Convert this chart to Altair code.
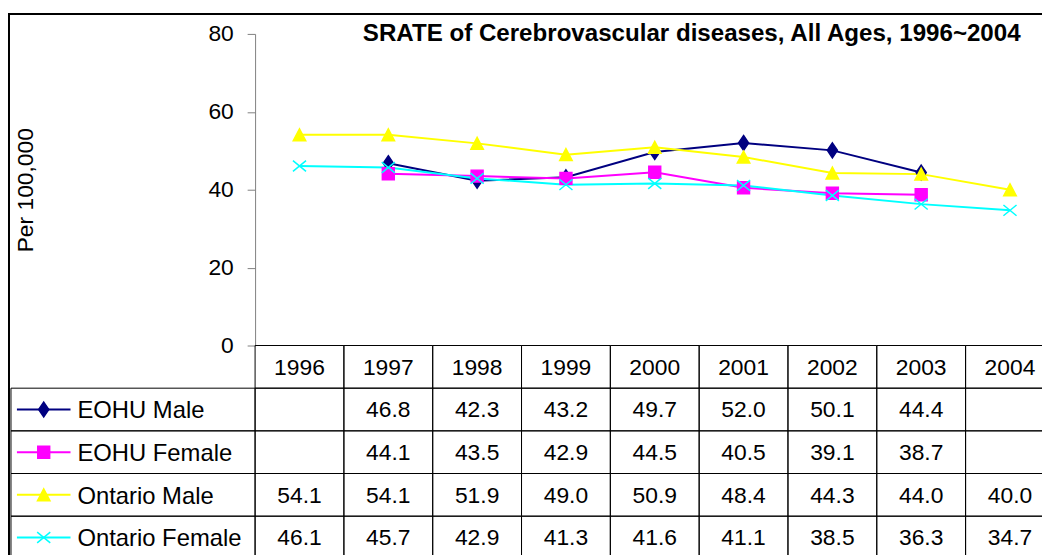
import altair as alt
import pandas as pd

# ---------------- data ----------------
years = [1996, 1997, 1998, 1999, 2000, 2001, 2002, 2003, 2004]
series_names = ["EOHU Male", "EOHU Female", "Ontario Male", "Ontario Female"]
eohu_male = [None, 46.8, 42.3, 43.2, 49.7, 52.0, 50.1, 44.4, None]
eohu_female = [None, 44.1, 43.5, 42.9, 44.5, 40.5, 39.1, 38.7, None]
ontario_male = [54.1, 54.1, 51.9, 49.0, 50.9, 48.4, 44.3, 44.0, 40.0]
ontario_female = [46.1, 45.7, 42.9, 41.3, 41.6, 41.1, 38.5, 36.3, 34.7]
y_ticks = [0, 20, 40, 60, 80]
chart_title = "SRATE of Cerebrovascular diseases, All Ages, 1996~2004"
y_title = "Per 100,000"

series_colors = ["#000080", "#FF00FF", "#FFFF00", "#00FFFF"]
series_fills = ["#000080", "#FF00FF", "#FFFF00", "transparent"]
series_shapes = [
    "M0,-1.25L0.85,0L0,1.25L-0.85,0Z",
    "square",
    "M0,-1L1.05,1L-1.05,1Z",
    "M-1.1,-0.9L1.1,0.9M-1.1,0.9L1.1,-0.9",
]

FONT = "Liberation Sans"

all_series = [eohu_male, eohu_female, ontario_male, ontario_female]

line_rows = []
table_rows = [{"row": "header", "year": y, "text": str(y)} for y in years]
for name, vals in zip(series_names, all_series):
    for y, v in zip(years, vals):
        if v is not None:
            line_rows.append({"series": name, "year": y, "value": v})
        table_rows.append({"row": name, "year": y, "text": "" if v is None else f"{v:.1f}"})
legend_rows = [{"series": n, "row": n} for n in series_names]

line_df = pd.DataFrame(line_rows)
table_df = pd.DataFrame(table_rows)
legend_df = pd.DataFrame(legend_rows)

# ---------------- scales ----------------
color_scale = alt.Scale(domain=series_names, range=series_colors)
fill_scale = alt.Scale(domain=series_names, range=series_fills)
shape_scale = alt.Scale(domain=series_names, range=series_shapes)
x_scale = alt.Scale(domain=[1995.5, 2004.5], range=[0, 805.5], zero=False, nice=False)
y_scale = alt.Scale(domain=[0, 80], zero=False, nice=False)
row_scale = alt.Scale(domain=["header"] + series_names, range=[314, 529],
                      paddingInner=0, paddingOuter=0)

y_axis = alt.Axis(
    orient="left",
    values=y_ticks, grid=False, tickSize=8, labelPadding=14,
    labelFont=FONT, labelFontSize=23, labelColor="black",
    domainColor="#808080", tickColor="#808080", domainWidth=1, tickWidth=1,
    title=y_title, titleFont=FONT, titleFontSize=23, titleFontWeight="normal",
    titleColor="black", titlePadding=172,
)

# ---------------- line chart ----------------
lines = alt.Chart(line_df).mark_line(strokeWidth=2).encode(
    x=alt.X("year:Q", scale=x_scale, axis=None),
    y=alt.Y("value:Q", scale=y_scale, axis=y_axis),
    color=alt.Color("series:N", scale=color_scale, legend=None),
)
points = alt.Chart(line_df).mark_point(opacity=1, size=144, strokeWidth=1.5).encode(
    x=alt.X("year:Q", scale=x_scale, axis=None),
    y=alt.Y("value:Q", scale=y_scale, axis=y_axis),
    shape=alt.Shape("series:N", scale=shape_scale, legend=None),
    fill=alt.Fill("series:N", scale=fill_scale, legend=None),
    stroke=alt.Stroke("series:N", scale=color_scale, legend=None),
)

# ---------------- data table ----------------
cells = alt.Chart(table_df).transform_calculate(
    x0="datum.year - 0.5", x1="datum.year + 0.5"
).mark_rect(fillOpacity=0, stroke="black", strokeWidth=1).encode(
    x=alt.X("x0:Q", scale=x_scale, axis=None),
    x2="x1:Q",
    y=alt.Y("row:N", scale=row_scale, axis=None),
)
cell_text = alt.Chart(table_df).mark_text(
    font=FONT, fontSize=23, color="black", align="center", baseline="middle", dy=1
).encode(
    x=alt.X("year:Q", scale=x_scale, axis=None),
    y=alt.Y("row:N", scale=row_scale, axis=None, bandPosition=0.5),
    text="text:N",
)
label_cells = alt.Chart(legend_df).mark_rect(fillOpacity=0, stroke="black", strokeWidth=1).encode(
    x=alt.value(-246), x2=alt.value(0),
    y=alt.Y("row:N", scale=row_scale, axis=None),
)
label_text = alt.Chart(legend_df).mark_text(
    font=FONT, fontSize=24, color="black", align="left", baseline="middle", dy=2
).encode(
    x=alt.value(-179),
    y=alt.Y("row:N", scale=row_scale, axis=None, bandPosition=0.5),
    text="series:N",
)
key_lines = alt.Chart(legend_df).mark_rule(strokeWidth=2).encode(
    x=alt.value(-240), x2=alt.value(-186),
    y=alt.Y("row:N", scale=row_scale, axis=None, bandPosition=0.5),
    color=alt.Color("series:N", scale=color_scale, legend=None),
)
key_points = alt.Chart(legend_df).mark_point(opacity=1, size=144, strokeWidth=1.5).encode(
    x=alt.value(-213),
    y=alt.Y("row:N", scale=row_scale, axis=None, bandPosition=0.5),
    shape=alt.Shape("series:N", scale=shape_scale, legend=None),
    fill=alt.Fill("series:N", scale=fill_scale, legend=None),
    stroke=alt.Stroke("series:N", scale=color_scale, legend=None),
)
table_part = alt.layer(cells, cell_text, label_cells, label_text, key_lines, key_points)

# ---------------- frame and title ----------------
border = alt.Chart(alt.Data(values=[{"k": 1}])).mark_rect(
    fillOpacity=0, stroke="black", strokeWidth=2
).encode(
    x=alt.value(-248), x2=alt.value(900), y=alt.value(-20), y2=alt.value(700)
)
title_text = alt.Chart(alt.Data(values=[{"t": chart_title}])).mark_text(
    font=FONT, fontSize=24.3, fontWeight="bold", color="black",
    align="center", baseline="alphabetic"
).encode(x=alt.value(440), y=alt.value(7), text="t:N")

line_part = alt.layer(lines, points)

chart = alt.layer(line_part, border, table_part, title_text).resolve_scale(
    y="independent"
).properties(
    width=793, height=314,
    padding={"left": 249, "top": 24, "right": 0, "bottom": 209},
    autosize=alt.AutoSizeParams(type="none"),
    background="white",
).configure_view(stroke="transparent")

chart.save("out.html", embed_options={"renderer": "svg", "actions": False})
